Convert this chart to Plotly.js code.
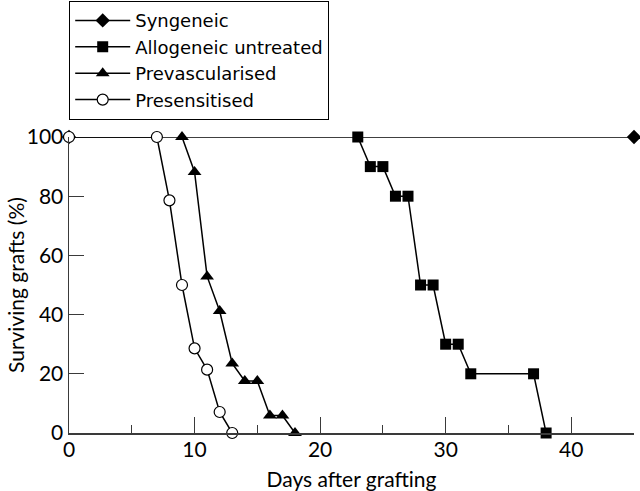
<!DOCTYPE html>
<html><head><meta charset="utf-8">
<script src="https://cdn.plot.ly/plotly-3.0.1.min.js"></script>
<style>body{margin:0;padding:0;background:#fff}#chart{width:640px;height:491px}</style>
</head><body><div id="chart"></div>
<script>
const synDays = [0, 45];
const synSurv = [100, 100];
const alloDays = [23, 24, 25, 26, 27, 28, 29, 30, 31, 32, 37, 38];
const alloSurv = [100, 90, 90, 80, 80, 50, 50, 30, 30, 20, 20, 0];
const prevDays = [9, 10, 11, 12, 13, 14, 15, 16, 17, 18];
const prevSurv = [100, 88.2, 52.9, 41.2, 23.5, 17.6, 17.6, 5.9, 5.9, 0];
const presDays = [0, 7, 8, 9, 10, 11, 12, 13];
const presSurv = [100, 100, 78.6, 50, 28.6, 21.4, 7.1, 0];
const xTickVals = [0, 10, 20, 30, 40];
const yTickVals = [0, 20, 40, 60, 80, 100];
const yTitle = 'Surviving grafts (%)';
const xTitle = 'Days after grafting';

const FONT = 'Lato, "Noto Sans", sans-serif';
const LFONT = '"DejaVu Sans", sans-serif';
const AX = '#3a3a3a';
const line = {color: '#000', width: 1.5};
const traces = [
  {x: synDays, y: synSurv, name: 'Syngeneic', mode: 'lines+markers', line,
   marker: {symbol: 'diamond', size: 11, color: '#000'}, cliponaxis: false},
  {x: alloDays, y: alloSurv, name: 'Allogeneic untreated', mode: 'lines+markers', line,
   marker: {symbol: 'square', size: 11, color: '#000'}, cliponaxis: false},
  {x: prevDays, y: prevSurv, name: 'Prevascularised', mode: 'lines+markers', line,
   marker: {symbol: 'triangle-up', size: 12, color: '#000'}, cliponaxis: false},
  {x: presDays, y: presSurv, name: 'Presensitised', mode: 'lines+markers', line,
   marker: {symbol: 'circle', size: 11, color: '#fff', line: {color: '#000', width: 1.2}}, cliponaxis: false}
];
const layout = {
  width: 640, height: 491,
  margin: {l: 69, r: 6, t: 137, b: 58, autoexpand: false},
  paper_bgcolor: '#fff', plot_bgcolor: '#fff',
  font: {family: FONT, size: 21, color: '#000'},
  showlegend: true,
  legend: {x: 69/640, y: 1 - 1/491, xref: 'container', yref: 'container', xanchor: 'left', yanchor: 'top',
    bordercolor: '#000', borderwidth: 1.2, bgcolor: '#fff', font: {family: LFONT, size: 18, color: '#000'},
    itemwidth: 55, tracegroupgap: 0},
  xaxis: {range: [0, 45], tickvals: xTickVals, ticks: 'inside', ticklen: 16, tickwidth: 1.2, tickcolor: AX,
    showline: true, linecolor: AX, linewidth: 1.5, showgrid: false, zeroline: false, ticklabelstandoff: -3,
    minor: {dtick: 5, tick0: 0, ticks: 'inside', ticklen: 8, tickwidth: 1.2, tickcolor: AX, showgrid: false},
    tickfont: {family: FONT, size: 21, color: '#000'},
    title: {text: xTitle, font: {family: FONT, size: 21, color: '#000'}}},
  yaxis: {range: [0, 100], tickvals: yTickVals, ticks: 'inside', ticklen: 15, tickwidth: 1.2, tickcolor: AX,
    showline: true, linecolor: AX, linewidth: 1.5, showgrid: false, zeroline: false,
    tickfont: {family: FONT, size: 21, color: '#000'}},
  annotations: [{text: yTitle, xref: 'paper', yref: 'paper', x: -54/565, y: 0.5, xanchor: 'center', yanchor: 'middle',
    textangle: -90, showarrow: false, font: {family: FONT, size: 21, color: '#000'}}]
};
Plotly.newPlot('chart', traces, layout, {displayModeBar: false, staticPlot: true});
</script></body></html>
